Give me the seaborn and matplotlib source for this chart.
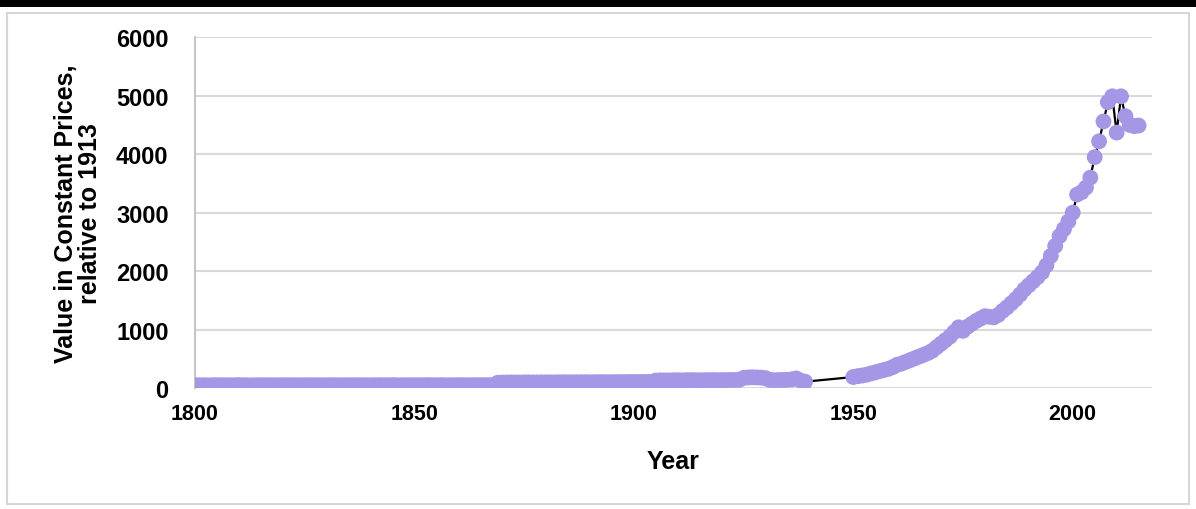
import matplotlib
matplotlib.use("Agg")
import matplotlib.pyplot as plt
import seaborn as sns
import pandas as pd
from matplotlib.patches import Rectangle

# ---- data ----
years_early = list(range(1800, 1940))
values_early = (
    # 1800-1868
    [50, 49, 50, 48, 50, 51, 50, 49, 50, 50, 52, 50, 49, 48, 50, 51, 50, 50, 49, 50,
     50, 51, 50, 49, 50, 50, 51, 50, 50, 49, 50, 51, 50, 50, 49, 50, 51, 50, 50, 50,
     49, 50, 51, 50, 50, 52, 50, 49, 50, 51, 50, 50, 51, 52, 50, 50, 51, 50, 49, 50,
     52, 51, 50, 50, 51, 52, 51, 50, 52]
    # 1869-1904
    + [92, 95, 96, 98, 97, 96, 98, 99, 97, 98, 99, 100, 98, 99, 100, 101, 99, 100,
       100, 101, 102, 100, 101, 102, 103, 101, 102, 103, 104, 103, 104, 105, 104, 105,
       106, 107]
    # 1905-1924
    + [130, 132, 133, 131, 134, 135, 133, 136, 137, 135, 134, 136, 137, 138, 136, 137,
       138, 139, 140, 142]
    # 1925-1939
    + [175, 182, 185, 183, 180, 170, 140, 135, 138, 140, 142, 150, 165, 130, 110]
)
years_late = list(range(1950, 2016))
values_late = [
    190, 205, 215, 230, 250, 270, 290, 310, 330, 360,        # 1950-1959
    400, 420, 450, 480, 510, 540, 570, 600, 640, 700,        # 1960-1969
    760, 820, 880, 960, 1040, 980, 1050, 1100, 1150, 1190,   # 1970-1979
    1230, 1220, 1210, 1250, 1320, 1380, 1450, 1520, 1600, 1690,  # 1980-1989
    1760, 1830, 1900, 1980, 2100, 2260, 2430, 2600, 2720, 2850,  # 1990-1999
    3000, 3310, 3350, 3430, 3600, 3950, 4220, 4560, 4890, 4990,  # 2000-2009
    4370, 4990, 4650, 4500, 4480, 4490,                      # 2010-2015
]
x_ticks = [1800, 1850, 1900, 1950, 2000]
y_ticks = [0, 1000, 2000, 3000, 4000, 5000, 6000]

df = pd.DataFrame({"Year": years_early + years_late,
                   "Value": values_early + values_late})

sns.set_theme(style="white")
plt.rcParams["font.family"] = ["Liberation Sans", "DejaVu Sans"]
plt.rcParams["text.color"] = "black"
plt.rcParams["axes.labelcolor"] = "black"
plt.rcParams["xtick.color"] = "black"
plt.rcParams["ytick.color"] = "black"

fig = plt.figure(figsize=(11.96, 5.10), dpi=100)
fig.patch.set_facecolor("white")
# screenshot frame
fig.add_artist(Rectangle((0, 0.984), 1, 0.016, transform=fig.transFigure,
                         facecolor="black", edgecolor="none"))
fig.add_artist(Rectangle((0.006, 0.01), 0.988, 0.962, transform=fig.transFigure,
                         facecolor="none", edgecolor="#d6d6d6", linewidth=1.5))

ax = fig.add_axes([0.163, 0.237, 0.800, 0.688])

sns.lineplot(data=df, x="Year", y="Value", ax=ax, color="black",
             linewidth=1.6, zorder=2, sort=True)
sns.scatterplot(data=df, x="Year", y="Value", ax=ax, color="#a597e5",
                s=130, edgecolor="none", zorder=3, alpha=1.0)

ax.set_xlim(1800, 2018)
ax.set_ylim(0, 6000)
ax.set_xticks(x_ticks)
ax.set_yticks(y_ticks)
ax.set_xticklabels([str(t) for t in x_ticks], fontsize=15.5, fontweight="bold")
ax.set_yticklabels([str(t) for t in y_ticks], fontsize=17, fontweight="bold")
ax.tick_params(axis="x", length=0, pad=11)
ax.tick_params(axis="y", length=0, pad=19)

ax.grid(axis="y", color="#d9d9d9", linewidth=1.5)
ax.set_axisbelow(True)
for s in ["top", "right", "bottom"]:
    ax.spines[s].set_visible(False)
ax.spines["left"].set_color("#bfbfbf")
ax.spines["left"].set_linewidth(1.3)

ax.set_xlabel("Year", fontsize=18, fontweight="bold", labelpad=18)
ax.set_ylabel("Value in Constant Prices,\nrelative to 1913", fontsize=18,
              fontweight="bold", labelpad=10, linespacing=1.0)

fig.savefig("out.png", dpi=100, facecolor="white")
